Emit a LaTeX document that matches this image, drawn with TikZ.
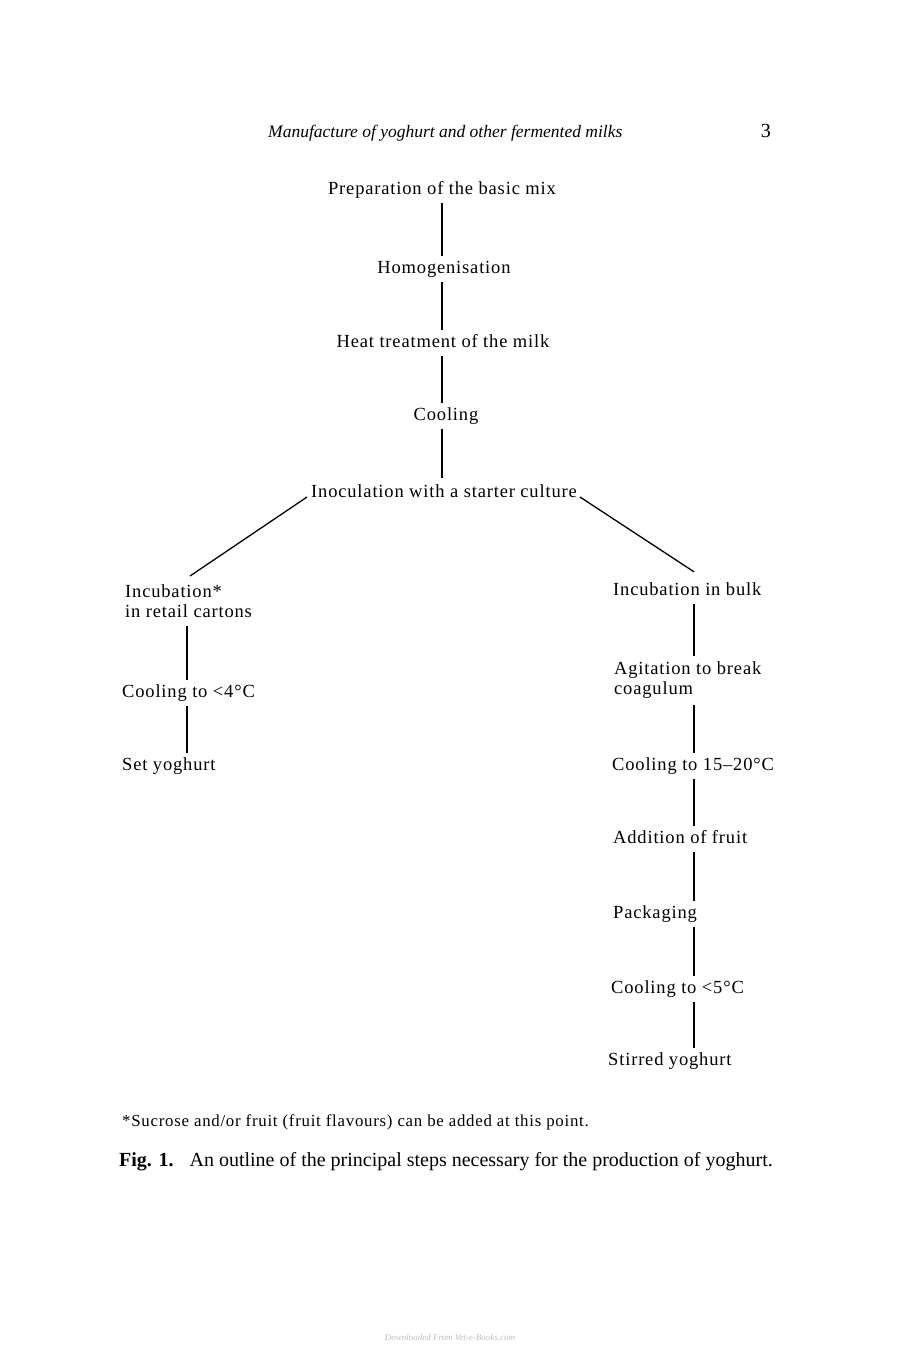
\documentclass[tikz,border=0pt]{standalone}
\usepackage{fontspec}
\setmainfont{Liberation Serif}
\newfontfamily\stepfont[LetterSpace=4.5]{Liberation Serif}
\newfontfamily\notefont[LetterSpace=4.5]{Liberation Serif}
\usepackage{tikz}
\usetikzlibrary{positioning}
\usetikzlibrary{calc}

\tikzset{
  steptext/.style={inner sep=0pt,font=\stepfont\fontsize{18.5}{21}\selectfont,text height=12pt,text depth=4pt},
  steptwo/.style={inner sep=0pt,font=\stepfont\fontsize{18.5}{20.5}\selectfont,align=left},
  flow/.style={draw=black,line width=1.3pt,shorten <=5pt,shorten >=5pt},
}

\begin{document}
\begin{tikzpicture}[x=1pt,y=-1pt]

\useasboundingbox (0,0) rectangle (898,1353);
\fill[white] (0,0) rectangle (898,1353);

%HEAD
\node[anchor=base west,inner sep=0pt,font=\fontsize{17.5}{20}\selectfont\itshape](HEAD-label)at(268,137){Manufacture of yoghurt and other fermented milks};
\node[anchor=base east,inner sep=0pt,font=\fontsize{20}{22}\selectfont](PAGE-label)at(771,137){3};

%COMMON STEPS
\node[steptext,anchor=base](PREP-label)at(442,194){Preparation of the basic mix};
\node[steptext,anchor=base](HOMO-label)at(444,273){Homogenisation};
\node[steptext,anchor=base](HEAT-label)at(443,347){Heat treatment of the milk};
\node[steptext,anchor=base](COOL-label)at(446,420){Cooling};
\node[steptext,anchor=base](INOC-label)at(444,497){Inoculation with a starter culture};

\draw[flow] (PREP-label) -- (PREP-label |- HOMO-label.north);
\draw[flow] (HOMO-label.south -| 442,0) -- (HEAT-label.north -| 442,0);
\draw[flow] (HEAT-label.south -| 442,0) -- (COOL-label.north -| 442,0);
\draw[flow,shorten >=7pt] (COOL-label.south -| 442,0) -- (INOC-label.north -| 442,0);

%LEFT
\coordinate (colL) at (187,0);
\node[steptwo,anchor=north west](SETINC-label)at(125,584){Incubation*\\in retail cartons};
\node[steptext,anchor=base west](SETCOOL-label)at(122,697){Cooling to <4°C};
\node[steptext,anchor=base west](SET-label)at(122,770){Set yoghurt};

\draw[draw=black,line width=1.3pt] ([xshift=-4pt]INOC-label.base west) -- ([xshift=3pt,yshift=8pt]SETINC-label.north -| colL);
\draw[flow,shorten <=8pt] (SETINC-label.south -| colL) -- (SETCOOL-label.north -| colL);
\draw[flow] (SETCOOL-label.south -| colL) -- (SET-label.north -| colL);

%RIGHT
\coordinate (colR) at (694,0);
\node[steptext,anchor=base west](BULK-label)at(613,595){Incubation in bulk};
\node[steptwo,anchor=north west](AGIT-label)at(614,661){Agitation to break\\coagulum};
\node[steptext,anchor=base west](STIRCOOL-label)at(612,770){Cooling to 15–20°C};
\node[steptext,anchor=base west](FRUIT-label)at(613,843){Addition of fruit};
\node[steptext,anchor=base west](PACK-label)at(613,918){Packaging};
\node[steptext,anchor=base west](COLD-label)at(611,993){Cooling to <5°C};
\node[steptext,anchor=base west](STIRRED-label)at(608,1065){Stirred yoghurt};

\draw[draw=black,line width=1.3pt] ([xshift=3pt]INOC-label.base east) -- ([yshift=11pt]BULK-label.north -| colR);
\draw[flow] (BULK-label.south -| colR) -- (AGIT-label.north -| colR);
\draw[flow,shorten <=6pt] (AGIT-label.south -| colR) -- (STIRCOOL-label.north -| colR);
\draw[flow] (STIRCOOL-label.south -| colR) -- (FRUIT-label.north -| colR);
\draw[flow] (FRUIT-label.south -| colR) -- (PACK-label.north -| colR);
\draw[flow] (PACK-label.south -| colR) -- (COLD-label.north -| colR);
\draw[flow] (COLD-label.south -| colR) -- (STIRRED-label.north -| colR);

%NOTE and CAPTION
\node[anchor=base west,inner sep=0pt,font=\notefont\fontsize{16.8}{19}\selectfont](NOTE-label)at(122,1126){*Sucrose and/or fruit (fruit flavours) can be added at this point.};
\node[anchor=base west,inner sep=0pt,font=\fontsize{20}{23}\selectfont](CAP-label)at(119,1166){\textbf{Fig. 1.}\hspace{0.8em}An outline of the principal steps necessary for the production of yoghurt.};

\node[inner sep=0pt,text=black!25,font=\fontsize{9}{10}\selectfont\itshape](MARK-label)at(450,1337){Downloaded From Vet-e-Books.com};

\end{tikzpicture}
\end{document}
